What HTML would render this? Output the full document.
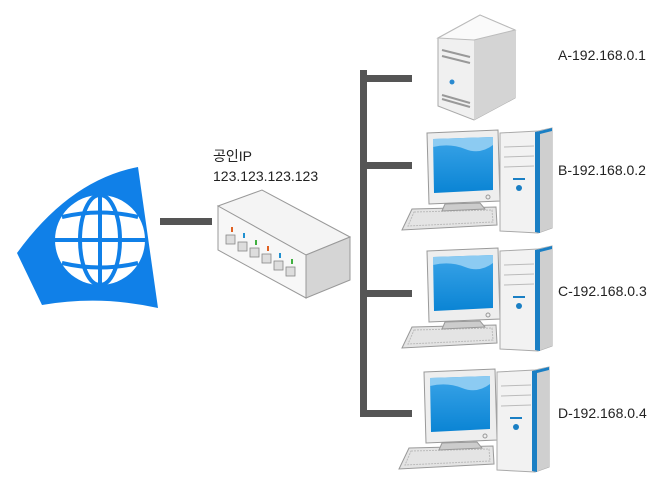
<!DOCTYPE html>
<html><head><meta charset="utf-8"><style>
body{margin:0;background:#fff;}
svg{display:block;font-family:"Liberation Sans","Noto Sans CJK KR",sans-serif;}
</style></head><body>
<svg width="667" height="503" viewBox="0 0 667 503">
<defs>
<linearGradient id="scr" x1="0" y1="0" x2="0" y2="1"><stop offset="0" stop-color="#3aa4e8"/><stop offset="1" stop-color="#0a84d4"/></linearGradient>
<g id="pc">
 <!-- keyboard -->
 <path d="M12 76 L96 74 L97 92 L2 97 Z" fill="#e4e4e4" stroke="#999"/>
 <path d="M14 79 L92 77 L93 89 L8 93 Z" fill="none" stroke="#bbb" stroke-dasharray="2 1"/>
 <!-- monitor -->
 <path d="M27 0 L98 -3 L100 68 L29 71 Z" fill="#eee" stroke="#999"/>
 <path d="M33 6 L93 4 L93 57 L34 60 Z" fill="url(#scr)"/>
 <path d="M33 14 Q50 10 65 16 T93 12 L93 4 L33 6 Z" fill="#8ccbf2"/>
 <circle cx="88" cy="64" r="2" fill="none" stroke="#999"/>
 <path d="M45 71 L80 70 L85 76 L42 78 Z" fill="#ccc" stroke="#999"/>
 <!-- tower -->
 <path d="M100 0 L138 -2 L152 -5 L152 95 L138 100 L100 98 Z" fill="#f2f2f2" stroke="#aaa"/>
 <path d="M138 -2 L152 -5 L152 95 L138 100 Z" fill="#cfcfcf"/>
 <path d="M135 -1 L140 -2 L140 100 L135 99 Z" fill="#1a7fc4"/>
 <path d="M140 -2 L152 -5 L152 -2 L140 1 Z" fill="#1a7fc4"/>
 <line x1="104" y1="14" x2="134" y2="13" stroke="#bbb"/>
 <line x1="104" y1="24" x2="134" y2="23" stroke="#bbb"/>
 <line x1="104" y1="34" x2="134" y2="33" stroke="#bbb"/>
 <rect x="113" y="45" width="12" height="2" fill="#1a7fc4"/>
 <circle cx="119" cy="55" r="3" fill="#1a7fc4"/>
</g>
</defs>
<!-- globe wedge -->
<path d="M17 253 Q70 180 138 167 L158 308 Q100 295 42 305 Z" fill="#1080e8"/>
<circle cx="100" cy="240" r="45" fill="#fff"/>
<g fill="none" stroke="#1080e8" stroke-width="4">
 <ellipse cx="100" cy="240" rx="20" ry="45"/>
 <line x1="100" y1="195" x2="100" y2="285"/>
 <line x1="55" y1="240" x2="145" y2="240"/>
 <path d="M62 217 Q100 208 138 217"/>
 <path d="M62 263 Q100 272 138 263"/>
</g>
<rect x="160" y="218" width="52" height="7" fill="#555"/>
<!-- switch -->
<path d="M218 206 L262 190 L350 237 L306 255 Z" fill="#f4f4f4" stroke="#999"/>
<path d="M218 206 L306 255 L306 298 L218 250 Z" fill="#f7f7f7" stroke="#999"/>
<path d="M306 255 L350 237 L350 280 L306 298 Z" fill="#d5d5d5" stroke="#999"/>
<g fill="#ddd" stroke="#888" stroke-width="0.8">
 <rect x="226" y="235" width="9" height="9"/><rect x="238" y="242" width="9" height="9"/><rect x="250" y="248" width="9" height="9"/>
 <rect x="262" y="254" width="9" height="9"/><rect x="274" y="261" width="9" height="9"/><rect x="286" y="267" width="9" height="9"/>
</g>
<g><rect x="231" y="227" width="2" height="5" fill="#e06020"/><rect x="243" y="233" width="2" height="5" fill="#2090d0"/><rect x="255" y="240" width="2" height="5" fill="#40b040"/><rect x="267" y="246" width="2" height="5" fill="#e06020"/><rect x="279" y="253" width="2" height="5" fill="#2090d0"/><rect x="291" y="259" width="2" height="5" fill="#40b040"/></g>
<text x="213" y="161" font-size="14" fill="#222">공인IP</text>
<text x="213" y="181" font-size="14" fill="#222">123.123.123.123</text>
<!-- bus -->
<rect x="360" y="70" width="7" height="347" fill="#555"/>
<rect x="360" y="75" width="52" height="7" fill="#555"/>
<rect x="360" y="162" width="52" height="7" fill="#555"/>
<rect x="360" y="290" width="52" height="7" fill="#555"/>
<rect x="360" y="410" width="52" height="7" fill="#555"/>
<!-- server -->
<path d="M438 38 L480 15 L515 30 L515 98 L474 120 L438 106 Z" fill="#f0f0f0" stroke="#aaa"/>
<path d="M474 40 L515 30 L515 98 L474 120 Z" fill="#d4d4d4"/>
<path d="M438 38 L480 15 L515 30 L474 40 Z" fill="#fafafa" stroke="#bbb"/>
<g stroke="#999" stroke-width="2"><line x1="442" y1="50" x2="470" y2="57"/><line x1="442" y1="56" x2="470" y2="63"/><line x1="442" y1="95" x2="470" y2="103"/><line x1="442" y1="99" x2="470" y2="107"/></g>
<circle cx="452" cy="82" r="2.5" fill="#2a8ad0"/>
<use href="#pc" transform="translate(400,133)"/>
<use href="#pc" transform="translate(400,251)"/>
<use href="#pc" transform="translate(397,372)"/>
<g font-size="14" fill="#222">
<text x="558" y="60">A-192.168.0.1</text>
<text x="558" y="175">B-192.168.0.2</text>
<text x="558" y="296">C-192.168.0.3</text>
<text x="558" y="418">D-192.168.0.4</text>
</g>
</svg>
</body></html>
